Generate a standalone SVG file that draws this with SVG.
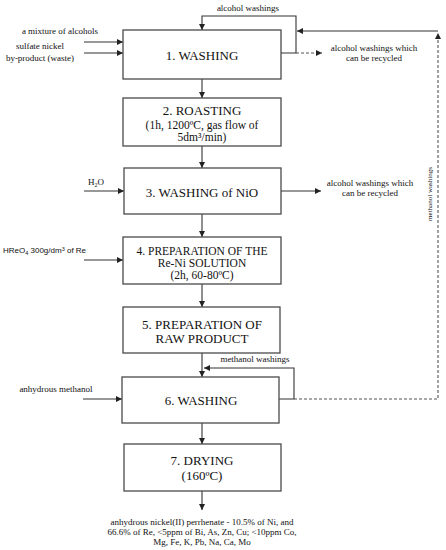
<svg xmlns="http://www.w3.org/2000/svg" width="446" height="550" viewBox="0 0 446 550">
<style>
.box{fill:#fff;stroke:#4a4a4a;stroke-width:1.3}
.t{font-family:"Liberation Serif","Times New Roman",serif;fill:#111;text-anchor:middle}
.h{font-size:13px}
.s{font-size:11.5px}
.l{font-size:9px}
.ln{fill:none;stroke:#333;stroke-width:1.1}
.d{fill:none;stroke:#555;stroke-width:1.1;stroke-dasharray:3,2}
</style>
<defs>
<marker id="ah" markerUnits="userSpaceOnUse" markerWidth="6" markerHeight="6" refX="6" refY="3" orient="auto">
<path d="M0,0 L6,3 L0,6 z" fill="#222"/>
</marker>
</defs>
<g id="connectors">
<path class="ln" d="M84,42 H123" marker-end="url(#ah)"/>
<path class="ln" d="M84,53 H123" marker-end="url(#ah)"/>
<path class="ln" d="M84,191 H124" marker-end="url(#ah)"/>
<path class="ln" d="M84,260 H123" marker-end="url(#ah)"/>
<path class="ln" d="M83,399 H122" marker-end="url(#ah)"/>
<path class="ln" d="M202,79 V98" marker-end="url(#ah)"/>
<path class="ln" d="M202,146 V168" marker-end="url(#ah)"/>
<path class="ln" d="M202,214 V237" marker-end="url(#ah)"/>
<path class="ln" d="M202,284 V307" marker-end="url(#ah)"/>
<path class="ln" d="M202,353 V377" marker-end="url(#ah)"/>
<path class="ln" d="M202,423 V444" marker-end="url(#ah)"/>
<path class="ln" d="M202,491 V510" marker-end="url(#ah)"/>
<path class="ln" d="M281,53 H296 V16 H202 V30" marker-end="url(#ah)"/>
<path class="d" d="M296,53 H322" marker-end="url(#ah)"/>
<path class="ln" d="M281,191 H321" marker-end="url(#ah)"/>
<path class="ln" d="M279,399 H294 V368 H204" marker-end="url(#ah)"/>
<path class="d" d="M294,399 H438 V33" marker-end="url(#ah)"/>
<path class="ln" d="M438,31 H297" marker-end="url(#ah)"/>
</g>
<g id="n1"><rect class="box" x="123" y="30" width="158" height="49"/><text class="t h" x="202" y="59.5">1. WASHING</text></g>
<g id="n2"><rect class="box" x="123" y="98" width="158" height="48"/><text class="t h" x="202" y="115">2. ROASTING</text><text class="t s" x="202" y="128.5">(1h, 1200ºC, gas flow of</text><text class="t s" x="202" y="140.5">5dm³/min)</text></g>
<g id="n3"><rect class="box" x="124" y="168" width="157" height="46"/><text class="t h" x="202" y="196.5">3. WASHING of NiO</text></g>
<g id="n4"><rect class="box" x="123" y="237" width="158" height="47"/><text class="t s" x="202" y="254.5">4. PREPARATION OF THE</text><text class="t s" x="202" y="266.5">Re-Ni SOLUTION</text><text class="t s" x="202" y="278.5">(2h, 60-80ºC)</text></g>
<g id="n5"><rect class="box" x="123" y="307" width="157" height="46"/><text class="t h" x="202" y="328.5">5. PREPARATION OF</text><text class="t h" x="202" y="342.5">RAW PRODUCT</text></g>
<g id="n6"><rect class="box" x="122" y="377" width="157" height="46"/><text class="t h" x="201" y="404.5">6. WASHING</text></g>
<g id="n7"><rect class="box" x="124" y="444" width="157" height="47"/><text class="t h" x="202" y="465">7. DRYING</text><text class="t h" x="202" y="479.5">(160ºC)</text></g>
<g id="labels">
<text class="t l" x="248" y="10.5">alcohol washings</text>
<text class="t l" x="60" y="34">a mixture of alcohols</text>
<text class="t l" x="40" y="49">sulfate nickel</text>
<text class="t l" x="40" y="61">by-product (waste)</text>
<text class="t l" x="374" y="51">alcohol washings which</text>
<text class="t l" x="374" y="60.5">can be recycled</text>
<text class="t l" x="96" y="185">H<tspan font-size="6" dy="1.5">2</tspan><tspan dy="-1.5">O</tspan></text>
<text class="t l" x="370" y="186">alcohol washings which</text>
<text class="t l" x="370" y="196">can be recycled</text>
<text x="3" y="253" style="font-family:'Liberation Sans',Arial,sans-serif;font-size:8px;fill:#111">HReO<tspan font-size="5.5" dy="1.5">4</tspan><tspan dy="-1.5"> 300g/dm</tspan><tspan font-size="5.5" dy="-2.5">3</tspan><tspan dy="2.5"> of Re</tspan></text>
<text class="t l" x="255" y="362">methanol washings</text>
<text class="t l" x="56" y="392">anhydrous methanol</text>
<text class="t" style="font-size:7px" transform="translate(432,194) rotate(-90)">methanol washings</text>
<text class="t l" x="202" y="525">anhydrous nickel(II) perrhenate - 10.5% of Ni, and</text>
<text class="t l" x="202" y="535">66.6% of Re, &lt;5ppm of Bi, As, Zn, Cu; &lt;10ppm Co,</text>
<text class="t l" x="202" y="545">Mg, Fe, K, Pb, Na, Ca, Mo</text>
</g>
</svg>
